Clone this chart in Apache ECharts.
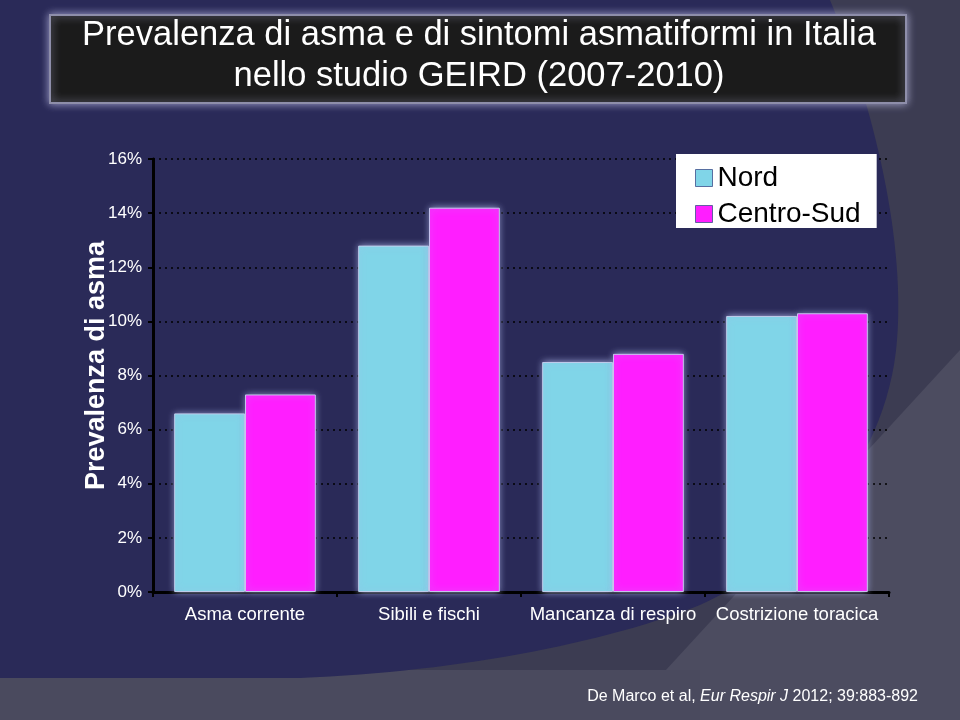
<!DOCTYPE html>
<html>
<head>
<meta charset="utf-8">
<script src="https://cdn.jsdelivr.net/npm/echarts@6/dist/echarts.min.js"></script>
<style>html,body{margin:0;padding:0;background:#3c3c52;}#chart{width:960px;height:720px;}</style>
</head>
<body>
<div id="chart"></div>
<script>
var titleLines = ['Prevalenza di asma e di sintomi asmatiformi in Italia', 'nello studio GEIRD (2007-2010)'];
var categories = ['Asma corrente', 'Sibili e fischi', 'Mancanza di respiro', 'Costrizione toracica'];
var seriesNames = ['Nord', 'Centro-Sud'];
var nordValues = [6.6, 12.8, 8.5, 10.2];
var centroSudValues = [7.3, 14.2, 8.8, 10.3];
var yAxisTitle = 'Prevalenza di asma';
var yMin = 0, yMax = 16, yStep = 2;

var chart = echarts.init(document.getElementById('chart'), null, {renderer: 'canvas'});

// decorative background shape (slide theme), sampled from cubic curves
function cubic(p0, p1, p2, p3, n) {
  var pts = [];
  for (var i = 1; i <= n; i++) {
    var t = i / n, u = 1 - t;
    pts.push([
      u*u*u*p0[0] + 3*u*u*t*p1[0] + 3*u*t*t*p2[0] + t*t*t*p3[0],
      u*u*u*p0[1] + 3*u*u*t*p1[1] + 3*u*t*t*p2[1] + t*t*t*p3[1]
    ]);
  }
  return pts;
}
var navyShape = [[0, 0], [830, 0]]
  .concat(cubic([830, 0], [875, 110], [905, 240], [897, 340], 30))
  .concat(cubic([897, 340], [888, 460], [800, 560], [700, 605], 30))
  .concat(cubic([700, 605], [600, 645], [450, 672], [300, 678], 30))
  .concat([[0, 678]]);

function barStyle(color) {
  return {
    color: color,
    borderColor: 'rgba(200,210,240,0.9)',
    borderWidth: 1,
    shadowBlur: 7,
    shadowColor: 'rgba(170,180,230,0.85)'
  };
}

var option = {
  backgroundColor: '#3c3c52',
  animation: false,
  graphic: [
    { type: 'polygon', z: -9, silent: true, shape: {points: [[960, 350], [620, 720], [960, 720]]}, style: {fill: '#4c4c60'} },
    { type: 'rect', z: -9, silent: true, shape: {x: 0, y: 670, width: 700, height: 50}, style: {fill: '#4a4a5e'} },
    { type: 'polygon', z: -8, silent: true, shape: {points: navyShape}, style: {fill: '#2a2a58'} },
    { type: 'rect', z: 5, silent: true, shape: {x: 50, y: 15, width: 856, height: 88},
      style: {fill: '#1b1b1b', stroke: '#8e8eaa', lineWidth: 2, shadowBlur: 8, shadowColor: 'rgba(190,190,230,0.8)'} },
    { type: 'text', z: 6, silent: true, x: 479, y: 55.5,
      style: {text: titleLines.join('\n'), fill: '#ffffff', font: '34.5px "Liberation Sans", Arial, sans-serif',
        align: 'center', verticalAlign: 'middle', lineHeight: 41} },
    { type: 'text', z: 6, silent: true, x: 918, y: 697,
      style: {
        text: '{n|De Marco et al, }{i|Eur Respir J}{n| 2012; 39:883-892}',
        align: 'right', verticalAlign: 'middle',
        rich: {
          n: {fill: '#ffffff', font: '16px "Liberation Sans", Arial, sans-serif'},
          i: {fill: '#ffffff', font: 'italic 16px "Liberation Sans", Arial, sans-serif'}
        }
      } }
  ],
  grid: {left: 153, right: 71, top: 159, bottom: 128, containLabel: false},
  legend: {
    data: seriesNames,
    orient: 'vertical',
    left: 676, top: 154,
    backgroundColor: '#ffffff',
    padding: [10, 16, 0, 19],
    itemWidth: 17, itemHeight: 17,
    itemGap: 8,
    icon: 'rect',
    itemStyle: {borderColor: 'rgba(60,80,140,0.8)', borderWidth: 1, shadowBlur: 0},
    textStyle: {color: '#000000', fontSize: 28, fontFamily: '"Liberation Sans", Arial, sans-serif', padding: [0, 0, 0, 0]},
    selectedMode: false
  },
  xAxis: {
    type: 'category',
    data: categories,
    axisLine: {lineStyle: {color: '#000000', width: 3}},
    axisTick: {show: true, length: 5, lineStyle: {color: '#000000', width: 2}},
    axisLabel: {color: '#ffffff', fontSize: 18.5, margin: 13, fontFamily: '"Liberation Sans", Arial, sans-serif', interval: 0},
    splitLine: {show: false}
  },
  yAxis: {
    type: 'value',
    min: yMin, max: yMax, interval: yStep,
    name: yAxisTitle,
    nameLocation: 'middle',
    nameGap: 43,
    nameMoveOverlap: false,
    nameTextStyle: {color: '#ffffff', fontSize: 27, fontWeight: 'bold', fontFamily: '"Liberation Sans", Arial, sans-serif', padding: [0, 0, 0, 20]},
    axisLine: {show: true, lineStyle: {color: '#000000', width: 3}},
    axisTick: {show: true, length: 5, lineStyle: {color: '#000000', width: 2}},
    axisLabel: {color: '#ffffff', fontSize: 17, margin: 11, formatter: '{value}%', fontFamily: '"Liberation Sans", Arial, sans-serif'},
    splitLine: {show: true, lineStyle: {color: '#000000', type: [2, 4], width: 1.5}}
  },
  series: [
    {name: seriesNames[0], type: 'bar', data: nordValues, barGap: '0%', barCategoryGap: '23%', itemStyle: barStyle('#80d5e8')},
    {name: seriesNames[1], type: 'bar', data: centroSudValues, barGap: '0%', barCategoryGap: '23%', itemStyle: barStyle('#ff1eff')}
  ]
};
chart.setOption(option);
</script>
</body>
</html>
